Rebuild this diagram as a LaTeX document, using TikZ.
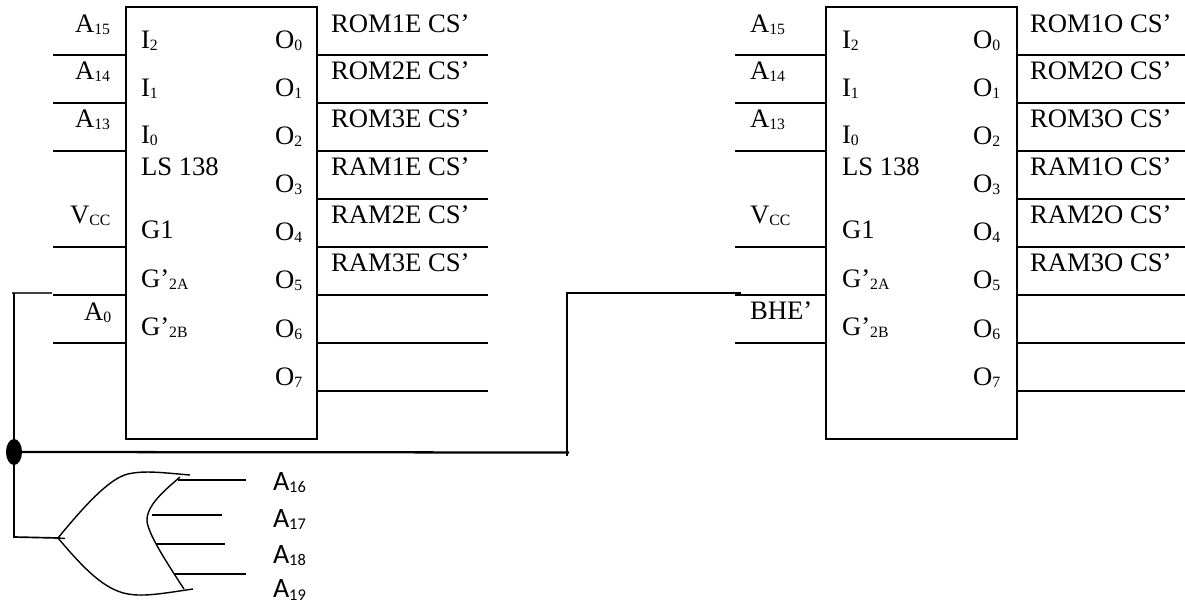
\documentclass[tikz,border=0pt]{standalone}
\usetikzlibrary{shapes.geometric}
\usepackage{fontspec}
\setmainfont{Liberation Serif}
\newfontfamily\calfont{Carlito}
\newcommand{\msub}[2]{#1\raisebox{-0.22ex}{\fontsize{11.8pt}{13pt}\selectfont #2}}
\newcommand{\csub}[2]{#1\raisebox{-0.22ex}{\fontsize{12.3pt}{13pt}\selectfont #2}}
\tikzset{
  x=0.75pt,y=-0.75pt,
  wire/.style={line width=1.25pt,line cap=butt},
  thinwire/.style={line width=1.05pt},
  chip/.style={draw,line width=1.25pt,minimum width=143.25pt,minimum height=324pt,inner sep=0pt,outer sep=0pt,anchor=north west},
  lab/.style={anchor=base west,inner sep=0pt,outer sep=0pt,font=\fontsize{20pt}{22pt}\selectfont},
  clab/.style={anchor=base west,inner sep=0pt,outer sep=0pt,font=\calfont\fontsize{21pt}{23pt}\selectfont},
}
\begin{document}
\begin{tikzpicture}
\useasboundingbox (0,0) rectangle (1185,603);
% decoders
\node[chip] (d1) at (126,7) {};
\node[chip] (d2) at (826,7) {};
% left decoder wires
\foreach \y/\n in {55/a,103/b,151/c,247/d,295/e,343/f}{
  \coordinate (l\n) at (53,\y);
  \draw[wire] (l\n) -- (l\n -| d1.west);
  \coordinate (m\n) at (735,\y);
  \draw[wire] (m\n) -- (m\n -| d2.west);
}
\foreach \y/\n in {55/a,103/b,151/c,199/d,247/e,295/f,343/g,391/h}{
  \coordinate (r\n) at (488,\y);
  \draw[wire] (r\n -| d1.east) -- (r\n);
  \coordinate (s\n) at (1185,\y);
  \draw[wire] (s\n -| d2.east) -- (s\n);
}
% labels: both decoders
\foreach \dx/\dr/\di/\tg in {0/0/0/E,698/699/701/O}{
  \node[lab] (i2\tg) at (141+\di,48) {\msub{I}{2}};
  \node[lab] (i1\tg) at (141+\di,96) {\msub{I}{1}};
  \node[lab] (i0\tg) at (141+\di,143) {\msub{I}{0}};
  \node[lab] (ls\tg) at (141+\di,175) {LS 138};
  \node[lab] (g1\tg) at (141+\di,238) {G1};
  \node[lab] (ga\tg) at (141+\di,287) {G’\msub{}{2A}};
  \node[lab] (gb\tg) at (141+\di,335) {G’\msub{}{2B}};
  \node[lab] (o0\tg) at (275+\dx,48) {\msub{O}{0}};
  \node[lab] (o1\tg) at (275+\dx,96) {\msub{O}{1}};
  \node[lab] (o2\tg) at (275+\dx,144) {\msub{O}{2}};
  \node[lab] (o3\tg) at (275+\dx,192) {\msub{O}{3}};
  \node[lab] (o4\tg) at (275+\dx,240) {\msub{O}{4}};
  \node[lab] (o5\tg) at (275+\dx,288) {\msub{O}{5}};
  \node[lab] (o6\tg) at (275+\dx,337) {\msub{O}{6}};
  \node[lab] (o7\tg) at (275+\dx,385) {\msub{O}{7}};
  \node[lab] (ra\tg) at (331+\dr,32) {ROM1\tg{} CS’};
  \node[lab] (rb\tg) at (331+\dr,79) {ROM2\tg{} CS’};
  \node[lab] (rc\tg) at (331+\dr,127) {ROM3\tg{} CS’};
  \node[lab] (rd\tg) at (331+\dr,175) {RAM1\tg{} CS’};
  \node[lab] (re\tg) at (331+\dr,223) {RAM2\tg{} CS’};
  \node[lab] (rf\tg) at (331+\dr,271) {RAM3\tg{} CS’};
}
\foreach \x/\tg in {75/E,750/O}{
  \node[lab] (a15\tg) at (\x,32) {\msub{A}{15}};
  \node[lab] (a14\tg) at (\x,79) {\msub{A}{14}};
  \node[lab] (a13\tg) at (\x,127) {\msub{A}{13}};
}
\node[lab] (vccE) at (70,223) {\msub{V}{CC}};
\node[lab] (vccO) at (750,223) {\msub{V}{CC}};
\node[lab] (a0) at (84,320) {\msub{A}{0}};
\node[lab] (bhe) at (750,319) {BHE’};
% gate
\coordinate (tip) at (58,538);
\draw[thinwire] (65,538.5) -- (tip) .. controls (85,505) and (110,478) .. (128,474) .. controls (145,470) and (165,473) .. (190,475);
\draw[thinwire] (tip) .. controls (85,570) and (105,590) .. (128,594) .. controls (145,597) and (165,593) .. (193,589);
\coordinate (ba) at (180,477);
\coordinate (bb) at (152,515);
\coordinate (bc) at (156,544);
\coordinate (bd) at (175,574);
\coordinate (be) at (184,589);
\draw[thinwire] (ba) .. controls (165,490) and (147,505) .. (147,520) .. controls (147,532) and (165,560) .. (be);
\coordinate (ia) at (246,480);
\coordinate (ib) at (222,515);
\coordinate (ic) at (225,544);
\coordinate (id) at (246,574);
\draw[thinwire] (178,480) -- (ia);
\draw[thinwire] (bb) -- (ib);
\draw[thinwire] (bc) -- (ic);
\draw[thinwire] (bd) -- (id);
\node[clab] (a16) at (273,490) {\csub{A}{16}};
\node[clab] (a17) at (273,527) {\csub{A}{17}};
\node[clab] (a18) at (273,563) {\csub{A}{18}};
\node[clab] (a19) at (273,597.5) {\csub{A}{19}};
% junction and bus
\node[ellipse,fill=black,minimum width=12pt,minimum height=19.5pt,inner sep=0pt] (dot) at (14,452) {};
\coordinate (stubl) at (12,293);
\coordinate (stubr) at (52,293);
\coordinate (tl) at (14,293);
\coordinate (gl) at (14,537);
\draw[line width=1pt,black!75] (stubl) -- (stubr);
\draw[wire] (tl) -- (gl) -- (tip);
\coordinate (busr) at (569,452.5);
\draw[line width=1.7pt] (dot.center) -- (busr);
\coordinate (up) at (567,293);
\coordinate (upr) at (741,293);
\draw[wire] (567,456) -- (up) -- (upr);
\end{tikzpicture}
\end{document}
